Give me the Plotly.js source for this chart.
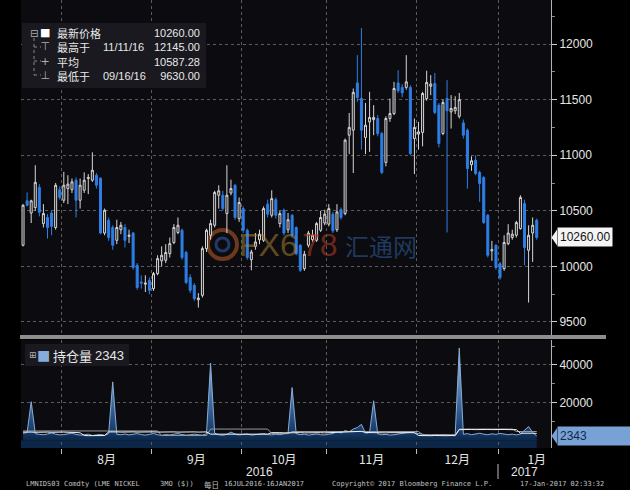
<!DOCTYPE html>
<html><head><meta charset="utf-8">
<script src="https://cdn.plot.ly/plotly-3.0.1.min.js"></script>
<style>html,body{margin:0;padding:0;background:#000;}#chart{width:630px;height:490px;}</style>
</head><body><div id="chart"></div>
<script>
// ---------- DATA ----------
const dates = [
"2016-07-18","2016-07-19","2016-07-20","2016-07-21","2016-07-22","2016-07-25","2016-07-26","2016-07-27","2016-07-28","2016-07-29",
"2016-08-01","2016-08-02","2016-08-03","2016-08-04","2016-08-05","2016-08-08","2016-08-09","2016-08-10","2016-08-11","2016-08-12",
"2016-08-15","2016-08-16","2016-08-17","2016-08-18","2016-08-19","2016-08-22","2016-08-23","2016-08-24","2016-08-25","2016-08-26",
"2016-08-30","2016-08-31",
"2016-09-01","2016-09-02","2016-09-05","2016-09-06","2016-09-07","2016-09-08","2016-09-09","2016-09-12","2016-09-13","2016-09-14",
"2016-09-15","2016-09-16","2016-09-19","2016-09-20","2016-09-21","2016-09-22","2016-09-23","2016-09-26","2016-09-27","2016-09-28",
"2016-09-29","2016-09-30",
"2016-10-03","2016-10-04","2016-10-05","2016-10-06","2016-10-07","2016-10-10","2016-10-11","2016-10-12","2016-10-13","2016-10-14",
"2016-10-17","2016-10-18","2016-10-19","2016-10-20","2016-10-21","2016-10-24","2016-10-25","2016-10-26","2016-10-27","2016-10-28",
"2016-10-31",
"2016-11-01","2016-11-02","2016-11-03","2016-11-04","2016-11-07","2016-11-08","2016-11-09","2016-11-10","2016-11-11","2016-11-14",
"2016-11-15","2016-11-16","2016-11-17","2016-11-18","2016-11-21","2016-11-22","2016-11-23","2016-11-24","2016-11-25","2016-11-28",
"2016-11-29","2016-11-30",
"2016-12-01","2016-12-02","2016-12-05","2016-12-06","2016-12-07","2016-12-08","2016-12-09","2016-12-12","2016-12-13","2016-12-14",
"2016-12-15","2016-12-16","2016-12-19","2016-12-20","2016-12-21","2016-12-22","2016-12-23","2016-12-28","2016-12-29","2016-12-30",
"2017-01-03","2017-01-04","2017-01-05","2017-01-06","2017-01-09","2017-01-10","2017-01-11","2017-01-12","2017-01-13","2017-01-16"
];
const openP = [
10190,10590,10480,10530,10710,10385,10440,10480,10350,10690,
10595,10700,10690,10775,10595,10685,10790,10775,10820,10793,
10300,10415,10350,10235,10330,10350,10270,10300,10010,9860,
9840,9875,9800,9935,10050,10055,10115,10215,10305,10325,
10125,9900,9830,9700,9740,10160,10280,10370,10640,10640,
10475,10660,10730,10430,10520,10325,10060,10180,10240,10235,
10560,10460,10600,10385,10505,10330,10460,10350,10190,9980,
10190,10240,10235,10325,10390,10380,10470,10330,10510,10475,
11180,11225,11650,11510,11160,11300,11320,11330,11195,10935,
11330,11375,11650,11610,11610,11610,11150,11190,11205,11510,
11620,11645,11450,11195,11510,11390,11400,11350,11290,11225,
10915,10955,10845,10800,10460,10140,10190,10025,9980,10205,
10260,10280,10340,10565,10145,10300,10415];
const highP = [
10560,10666,10600,10910,10740,10560,10470,10500,10750,10720,
10850,10820,10790,10800,10790,10846,10830,11026,10840,10800,
10520,10440,10370,10420,10400,10380,10330,10310,10030,9920,
9920,9900,9950,10100,10180,10200,10260,10380,10440,10340,
10140,9930,9850,9760,10180,10340,10420,10680,10730,10680,
10910,10780,10740,10620,10540,10340,10150,10300,10330,10540,
10600,10685,10620,10500,10520,10480,10470,10360,10200,10140,
10320,10330,10400,10500,10510,10560,10490,10560,10530,11150,
11380,11600,11900,12145,11470,11570,11450,11360,11210,11350,
11510,11660,11765,11640,11900,11630,11330,11300,11570,11760,
11720,11740,11470,11500,11675,11540,11530,11560,11320,11240,
10990,11000,10860,10810,10470,10230,10200,10040,10280,10380,
10330,10410,10640,10600,10370,10440,10430];
const lowP = [
10180,10540,10390,10500,10450,10350,10250,10280,10330,10600,
10570,10560,10660,10440,10520,10660,10650,10760,10700,10290,
10280,10230,10150,10200,10290,10170,10210,9970,9790,9800,
9770,9750,9780,9920,10000,10030,10080,10200,10290,10060,
9840,9760,9690,9630,9720,10130,10240,10350,10520,10500,
10300,10640,10420,10400,10300,10060,9965,10150,10200,10220,
10440,10440,10430,10350,10280,10300,10260,10100,9950,9960,
10170,10220,10220,10310,10370,10360,10300,10310,10420,10460,
11010,10840,11480,11050,11010,11030,11180,11170,10830,10900,
11300,11360,11560,11520,11590,11000,10830,11050,11080,11490,
11540,11370,11070,11180,10305,11240,11370,11330,11150,10700,
10860,10820,10580,10380,10080,10050,9970,9880,9960,10190,
10240,10260,10330,10010,9675,10040,10240];
const closeP = [
10550,10550,10590,10756,10486,10475,10350,10360,10730,10620,
10730,10740,10760,10595,10730,10775,10800,10865,10730,10300,
10505,10260,10190,10350,10370,10235,10280,9990,9810,9850,
9850,9785,9935,10070,10100,10125,10205,10350,10370,10080,
9855,9785,9710,9715,10160,10325,10385,10665,10680,10520,
10640,10700,10440,10575,10325,10080,10130,10220,10290,10520,
10470,10610,10460,10475,10300,10420,10280,10115,9965,10110,
10300,10280,10385,10440,10470,10520,10320,10490,10440,11135,
11250,11565,11520,11225,11270,11340,11340,11195,10845,11330,
11375,11600,11580,11560,11660,11015,11250,11210,11555,11655,
11640,11385,11105,11475,11400,11420,11430,11500,11180,10880,
10950,10835,10745,10395,10100,10150,9990,9900,10215,10300,
10290,10395,10620,10170,10280,10370,10260];
const openInterest = [
3800,4200,20500,3600,3200,3000,3400,3900,3300,2900,
3100,3500,3800,3200,2800,3000,3300,2600,2800,3200,
2700,3600,31000,3200,3000,3400,2900,3300,3600,3100,
2800,3200,3700,3000,2700,3100,2900,3300,3600,3100,
2800,3000,3300,3000,2800,3500,41000,3800,3000,2700,
3200,4400,3300,2900,3100,3400,2800,3000,3300,3600,
3100,2900,3300,3000,3500,3800,28000,3600,3000,3300,
2800,3100,3400,3000,2900,3300,3600,4800,3900,5200,
4600,6000,6800,8500,3800,4200,21000,3500,3000,3200,
2800,3000,3300,3600,3900,4400,4000,3500,3200,2900,
2700,3000,2800,3100,2900,2700,3000,49000,3200,3600,
3000,3400,3800,3300,3000,3500,3200,3700,3400,3000,
3300,2900,3400,5600,7300,4200,2343];
const oiWhiteLine = [
4400,4500,4400,4300,4400,4500,4400,4300,4400,4500,
4400,4300,4400,4200,4000,2600,2500,2600,2500,2600,
2600,4500,4600,4500,4400,4500,4600,4500,4400,4500,
4500,4600,4500,4400,4500,4500,4600,4500,4400,4500,
4500,4600,4500,4400,4500,4500,3300,3300,3200,3300,
3300,3400,3300,3200,3300,3300,3400,3300,3200,3300,
3300,4100,4200,4100,4000,4100,4100,4200,4100,4000,
4100,4100,4200,4100,4000,4100,4100,4300,4200,4400,
4300,4500,4600,4800,4200,4100,4100,4200,4100,4000,
4100,4100,4200,4100,4000,4100,4100,2600,2500,2600,
2500,2600,2500,2600,2500,2600,2500,5700,5800,5700,
5800,5700,5800,5700,5800,5700,5800,5700,5800,5700,
5800,5700,3800,3900,4000,3800,3700];
const oiGreyLine = [
5000,5000,5000,5000,5000,5000,5000,5000,5000,5000,
5000,5000,5000,5000,5000,5000,5000,5000,5000,5000,
5000,5000,5000,5000,5000,5000,5000,5000,5000,5000,
5000,5000,5000,5000,2600,2600,2600,2600,2600,2600,
2600,2600,2600,2600,2600,2600,6000,6000,6000,6000,
6000,6000,6000,6000,6000,6000,6000,6000,6000,6000,
6000,3600,3600,3600,3600,3600,4700,4700,4700,4700,
4700,4700,4700,4700,4700,4700,4700,4700,4700,4700,
4700,4700,4700,4700,4700,4700,4700,4700,4700,4700,
4700,4700,4700,4700,4700,4700,4700,4700,3000,3000,
3000,3000,3000,3000,3000,3000,3000,6000,6000,6000,
6000,6000,6000,6000,6000,6000,6000,6000,6000,6000,
6000,4700,4700,4700,4700,4700,4700];
const avgPrice = 10587.28;            // printed in the legend
const priceTicks = [9500,10000,10500,11000,11500,12000];
const priceMinorTicks = [9750,10250,10750,11250,11750,12250];
const oiTicks = [20000,40000];
const oiMinorTicks = [10000,30000,50000];
const priceLabels = ['最新价格','最高于','平均','最低于'];
const oiLabel = '持仓量';
const footer = {
  ticker:'LMNIDS03 Comdty (LME NICKEL', unit:'3MO ($))', freq:'每日',
  span:'16JUL2016-16JAN2017', copy:'Copyright\u00A9 2017 Bloomberg Finance L.P.', stamp:'17-Jan-2017 02:33:32'
};

// ---------- GEOMETRY ----------
const W=630, H=490, M={l:21, r:79, t:0, b:42};
const pw=W-M.l-M.r, ph=H-M.t-M.b;
const PX = x => (x-M.l)/pw;
const PY = y => (H-M.b-y)/ph;
const CJK = 'Noto Sans CJK SC';
const LAT = 'Liberation Sans, Arial';
const idx = dates.map((d,i)=>i);
const xRange = [-0.5, 129.5];
const yRange = [9383, 12396];
const y2Range = [-4030, 53200];
const topDom = [PY(335), 1], botDom = [0, PY(340)];

// month groups
const months=[];
dates.forEach((d,i)=>{const k=d.slice(0,7);const m=months[months.length-1];
  if(!m||m.key!==k) months.push({key:k,first:i,last:i}); else m.last=i;});
const shown = months.slice(1);
const monthBounds = shown.map(m=>m.first-0.5);
const monthMid = shown.map((m,j)=> j===shown.length-1 ? m.last : (m.first+m.last)/2);
const monthText = shown.map(m=>parseInt(m.key.slice(5),10)+'月');
const yearBreak = dates.findIndex(d=>d.slice(0,4)!==dates[0].slice(0,4)) - 0.5;

// legend values
const n = closeP.length;
const lastClose = closeP[n-1];
const hiIdx = highP.indexOf(Math.max(...highP));
const loIdx = lowP.indexOf(Math.min(...lowP));
const fmtD = d => d.slice(5,7)+'/'+d.slice(8,10)+'/'+d.slice(2,4);
const lastOI = openInterest[openInterest.length-1];

// ---------- TRACES ----------
const candle = {
  type:'candlestick', x:idx, open:openP, high:highP, low:lowP, close:closeP,
  xaxis:'x', yaxis:'y', whiskerwidth:0,
  increasing:{line:{color:'#d6d6d6', width:1}, fillcolor:'#17171c'},
  decreasing:{line:{color:'#2d7fe6', width:1}, fillcolor:'#2d7fe6'},
  hoverinfo:'skip'
};
const oiArea = {
  type:'scatter', mode:'lines', x:idx, y:openInterest, xaxis:'x', yaxis:'y2',
  line:{color:'#86acd9', width:1}, fill:'tozeroy',
  fillgradient:{type:'vertical', start:0, stop:50000,
    colorscale:[[0,'#0b2647'],[0.1,'#163b6b'],[0.5,'#4e78ab'],[1,'#b7d0ee']]},
  hoverinfo:'skip'
};
const greyL = {type:'scatter', mode:'lines', x:idx, y:oiGreyLine, xaxis:'x', yaxis:'y2',
  line:{color:'#9a9a9a', width:1}, hoverinfo:'skip'};
const whiteL = {type:'scatter', mode:'lines', x:idx, y:oiWhiteLine, xaxis:'x', yaxis:'y2',
  line:{color:'#f2f2f2', width:1}, hoverinfo:'skip'};

// ---------- SHAPES ----------
const upp = (yRange[1]-yRange[0])/(335);
const upp2 = (y2Range[1]-y2Range[0])/(448-340);
const dotted = {color:'#8a8a8a', width:1, dash:'dot'};
const shapes = [
  {type:'rect', xref:'x', yref:'y2', x0:xRange[0], x1:n-1, y0:y2Range[0], y1:0,
   fillcolor:'#0b2647', line:{width:0}, layer:'below'},
  {type:'circle', xref:'paper', yref:'paper', x0:PX(208), x1:PX(237), y0:PY(259), y1:PY(230),
   line:{color:'rgba(190,95,40,0.55)', width:4}, layer:'below'},
  {type:'circle', xref:'paper', yref:'paper', x0:PX(216), x1:PX(229), y0:PY(251), y1:PY(238),
   line:{color:'rgba(50,90,160,0.6)', width:3}, layer:'below'},
  {type:'rect', xref:'paper', yref:'paper', x0:PX(20), x1:PX(606), y0:PY(339), y1:PY(335),
   fillcolor:'#8e8e8e', line:{width:0}},
  {type:'rect', xref:'paper', yref:'paper', x0:PX(22), x1:PX(206), y0:PY(88), y1:PY(23),
   fillcolor:'#19191f', line:{width:0}},
  {type:'line', xref:'paper', yref:'paper', x0:PX(34), x1:PX(34), y0:PY(38), y1:PY(75), line:dotted},
  {type:'line', xref:'paper', yref:'paper', x0:PX(34), x1:PX(41), y0:PY(47), y1:PY(47), line:dotted},
  {type:'line', xref:'paper', yref:'paper', x0:PX(34), x1:PX(41), y0:PY(61), y1:PY(61), line:dotted},
  {type:'line', xref:'paper', yref:'paper', x0:PX(34), x1:PX(41), y0:PY(75), y1:PY(75), line:dotted},
  {type:'rect', xref:'paper', yref:'paper', x0:PX(25), x1:PX(129), y0:PY(366), y1:PY(344),
   fillcolor:'#19191f', line:{width:0}},
  {type:'path', xref:'paper', yref:'y',
   path:`M ${PX(551.5)},${lastClose} L ${PX(557)},${lastClose+8*upp} L ${PX(557)},${lastClose-8*upp} Z`,
   fillcolor:'#f4f4f4', line:{width:0}},
  {type:'path', xref:'paper', yref:'y2',
   path:`M ${PX(551.5)},${lastOI} L ${PX(557)},${lastOI+8*upp2} L ${PX(557)},${lastOI-8*upp2} Z`,
   fillcolor:'#78a2d6', line:{width:0}},
  {type:'line', xref:'x', yref:'paper', x0:yearBreak, x1:yearBreak, y0:PY(464), y1:PY(479),
   line:{color:'#bdbdbd', width:1}}
];

// ---------- ANNOTATIONS ----------
function T(x,y,text,font,extra){
  return Object.assign({xref:'paper', yref:'paper', x:PX(x), y:PY(y), text:text, showarrow:false,
    xanchor:'left', yanchor:'middle', font:font}, extra||{});
}
const NB = '\u00A0';
const legY = 54.5;   // centre of the four legend rows
const fL = {family:CJK, size:11, color:'#e8e8e8'};
const fN = {family:LAT, size:11, color:'#e8e8e8'};
const fF = {family:'DejaVu Sans Mono', size:7, color:'#c0c0c0'};
const annotations = [
  T(34,33,'⊟',{family:'DejaVu Sans', size:10, color:'#b0b0b0'},{xanchor:'center'}),
  T(45,legY,'<span style="color:#ffffff">■</span><br>⊤<br>+<br>⊥',
    {family:'DejaVu Sans', size:11, color:'#b0b0b0'},{xanchor:'center', align:'center', borderpad:0}),
  T(56,legY,priceLabels.join('<br>'),fL,{align:'left', borderpad:0}),
  T(102,legY,[NB, fmtD(dates[hiIdx]), NB, fmtD(dates[loIdx])].join('<br>'),fN,{align:'left', borderpad:0}),
  T(201,legY,[lastClose.toFixed(2), highP[hiIdx].toFixed(2), avgPrice.toFixed(2), lowP[loIdx].toFixed(2)].join('<br>'),
    fN,{xanchor:'right', align:'right', borderpad:0}),
  T(33,355,'⊞',{family:'DejaVu Sans', size:9, color:'#b0b0b0'},{xanchor:'center'}),
  T(43,355,'■',{family:'DejaVu Sans', size:14, color:'#86acd9'},{xanchor:'center'}),
  T(51,355,oiLabel,{family:CJK, size:13, color:'#e8e8e8'}),
  T(93,355,String(lastOI),{family:LAT, size:13, color:'#e8e8e8'}),
  {xref:'paper', yref:'y', x:PX(557), y:lastClose, xanchor:'left', yanchor:'middle', showarrow:false,
   text:lastClose.toFixed(2), bgcolor:'#f4f4f4', borderpad:2,
   font:{family:LAT, size:12, color:'#111'}},
  {xref:'paper', yref:'y2', x:PX(557), y:lastOI, xanchor:'left', yanchor:'middle', showarrow:false,
   text:String(lastOI), bgcolor:'#78a2d6', borderpad:2, width:68, align:'left',
   font:{family:LAT, size:12, color:'#12294a'}},
  {xref:'x', yref:'paper', x:(xRange[0]+yearBreak)/2, y:PY(472), yanchor:'middle', text:dates[0].slice(0,4), showarrow:false,
   font:{family:LAT, size:12, color:'#e6e6e6'}},
  {xref:'x', yref:'paper', x:(yearBreak+xRange[1])/2, y:PY(472), yanchor:'middle', text:dates[n-1].slice(0,4), showarrow:false,
   font:{family:LAT, size:12, color:'#e6e6e6'}},
  T(24,484,footer.ticker,fF), T(158,484,footer.unit,fF),
  T(202,484,footer.freq,{family:CJK, size:7.5, color:'#c0c0c0'}),
  T(222,484,footer.span,fF), T(330,484,footer.copy,fF), T(518,484,footer.stamp,fF),
  // watermark
  T(299,245,'FX6',{family:'Liberation Sans Narrow, Liberation Sans', size:32, color:'rgba(170,130,45,0.55)'},{xanchor:'right', borderpad:0}),
  T(301,245,'78',{family:'Liberation Sans Narrow, Liberation Sans', size:32, color:'rgba(170,60,35,0.6)'},{xanchor:'left', borderpad:0}),
  T(344,245,'汇通网',{family:CJK, size:24, color:'rgba(45,90,150,0.6)'},{xanchor:'left', borderpad:0})
];

// ---------- LAYOUT ----------
const grid = {gridcolor:'#5c5c5c', griddash:'dot', gridwidth:1};
const layout = {
  width:W, height:H, margin:M, paper_bgcolor:'#000', plot_bgcolor:'#0c0c10',
  showlegend:false, hovermode:false, font:{family:LAT, color:'#e6e6e6'},
  xaxis:{range:xRange, anchor:'y2', tickmode:'array', tickvals:monthMid, ticktext:monthText,
    ticks:'', showgrid:false, zeroline:false, showline:false, fixedrange:true, ticklabelstandoff:3,
    tickfont:{family:CJK, size:12, color:'#e6e6e6'},
    minor:Object.assign({tickmode:'array', tickvals:monthBounds, ticks:'outside', ticklen:5,
      tickcolor:'#bdbdbd', showgrid:true}, grid),
    rangeslider:{visible:false}},
  yaxis:Object.assign({domain:topDom, range:yRange, side:'right', anchor:'x', tickmode:'array',
    tickvals:priceTicks, tickformat:'d', ticks:'outside', ticklen:5, tickcolor:'#cfcfcf', showgrid:true,
    showline:true, linecolor:'#b0b0b0', linewidth:1, zeroline:false, fixedrange:true,
    tickfont:{family:LAT, size:12, color:'#e6e6e6'},
    minor:{tickmode:'array', tickvals:priceMinorTicks, ticks:'outside', ticklen:3, tickcolor:'#8a8a8a'}}, grid),
  yaxis2:Object.assign({domain:botDom, range:y2Range, side:'right', anchor:'x', tickmode:'array',
    tickvals:oiTicks, tickformat:'d', ticks:'outside', ticklen:5, tickcolor:'#cfcfcf', showgrid:true,
    showline:true, linecolor:'#b0b0b0', linewidth:1, zeroline:false, fixedrange:true,
    tickfont:{family:LAT, size:12, color:'#e6e6e6'},
    minor:{tickmode:'array', tickvals:oiMinorTicks, ticks:'outside', ticklen:3, tickcolor:'#8a8a8a'}}, grid),
  shapes:shapes, annotations:annotations
};

Plotly.newPlot('chart',[oiArea, greyL, whiteL, candle], layout, {staticPlot:true, displayModeBar:false});
</script></body></html>
